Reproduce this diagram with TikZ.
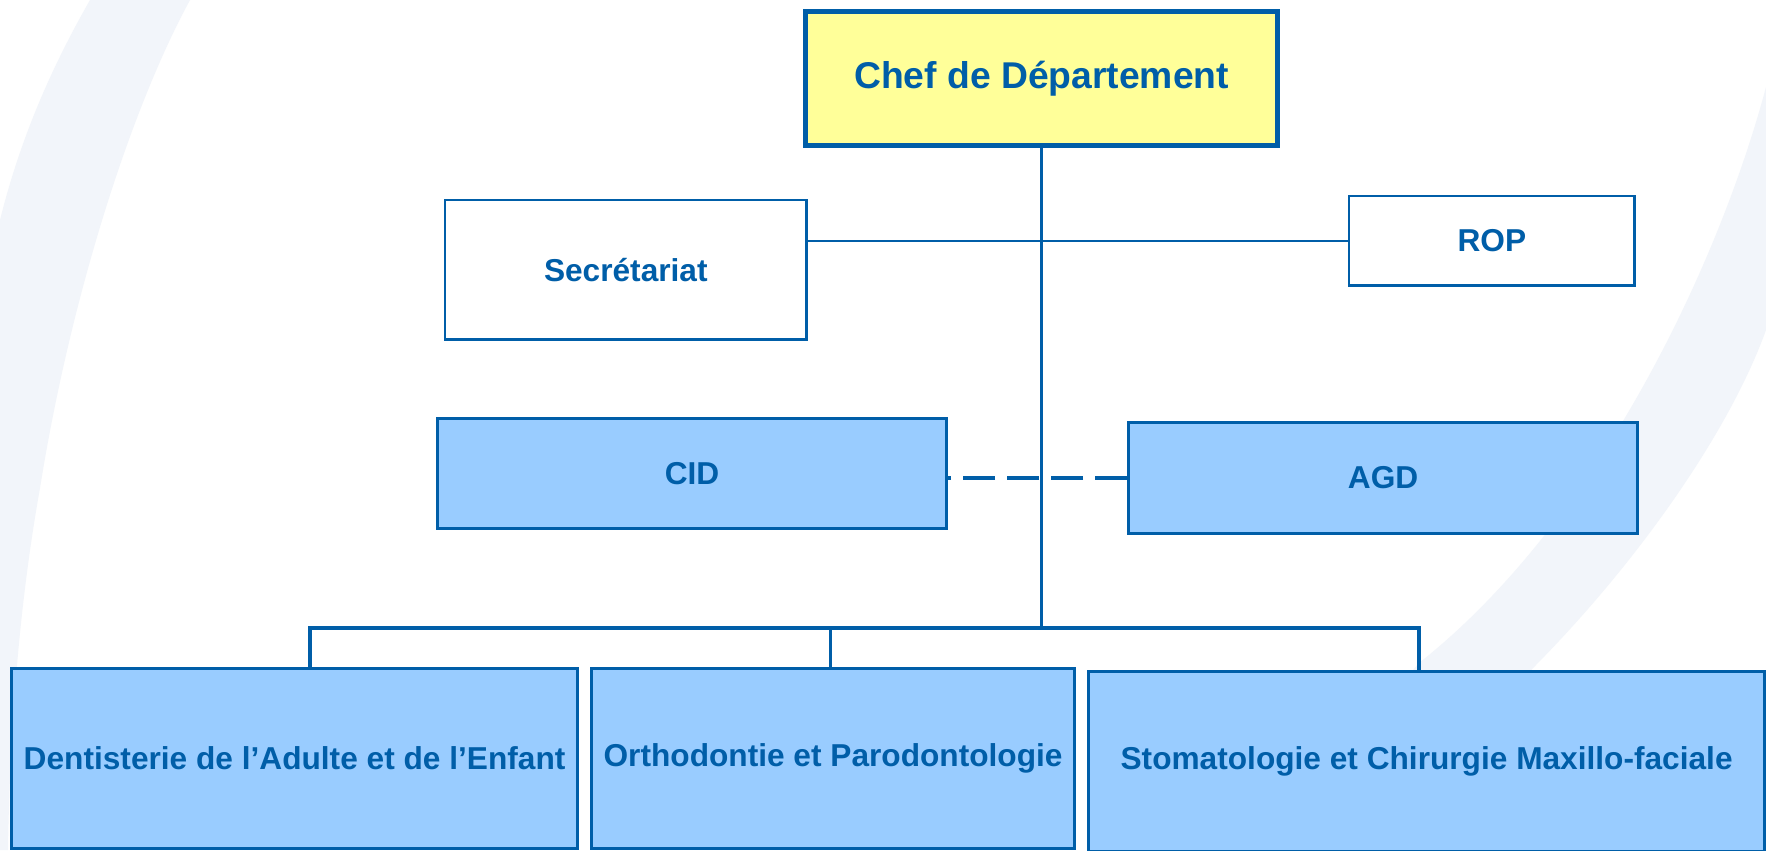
\documentclass[tikz,border=0pt]{standalone}
\usepackage{fontspec}
\setmainfont{Liberation Sans}
\usepackage{tikz}
\usetikzlibrary{calc}
\definecolor{orgblue}{RGB}{0,94,168}
\definecolor{boxblue}{RGB}{153,204,255}
\definecolor{chefyellow}{RGB}{255,255,153}
\definecolor{bandgrey}{RGB}{242,245,250}
\tikzstyle{rect} = [rectangle, draw=orgblue, text=orgblue, font=\bfseries\fontsize{9}{11}\selectfont, inner sep=2pt, text centered, anchor=north west]
\tikzstyle{service} = [rect, fill=boxblue, line width=0.8pt]
\tikzstyle{staff} = [rect, fill=white, line width=0.7pt]
\tikzstyle{link} = [draw=orgblue, line width=0.85pt]

\begin{document}
\begin{tikzpicture}[x=0.01cm, y=-0.01cm]

        \clip (0,0) rectangle (1766,850);
        \fill[white] (0,0) rectangle (1766,850);

        %% fond
        \fill[bandgrey] (90,0) .. controls (50,70) and (20,140) .. (0,220) -- (0,850) -- (8,850) .. controls (10,720) and (20,600) .. (40,488) .. controls (70,300) and (130,110) .. (190,0) -- cycle;
        \fill[bandgrey] (1766,87) .. controls (1720,260) and (1600,520) .. (1419,663) -- (1260,850) -- (1380,850) -- (1533,668) .. controls (1640,560) and (1730,430) .. (1766,330) -- cycle;

        %% direction

        \node (chef) [rect, fill=chefyellow, line width=1.4pt, minimum width=4.72cm, minimum height=1.34cm, font=\bfseries\fontsize{10.6}{13}\selectfont] at (803,9) {Chef de Département};

        \node (sec) [staff, minimum width=3.61cm, minimum height=1.39cm] at (444,199) {Secrétariat};
        \node (rop) [staff, minimum width=2.85cm, minimum height=0.89cm] at (1348,195) {ROP};

        \node (cid) [service, minimum width=5.09cm, minimum height=1.10cm] at (436,417) {CID};
        \node (agd) [service, minimum width=5.09cm, minimum height=1.11cm] at (1127,421) {AGD};

        %% departements

        \node (dent) [service, minimum width=5.66cm, minimum height=1.80cm] at (10,667) {Dentisterie de l’Adulte et de l’Enfant};
        \node (ortho) [service, minimum width=4.83cm, minimum height=1.80cm] at (590,667) {Orthodontie et Parodontologie};
        \node (stoma) [service, minimum width=6.76cm, minimum height=1.80cm] at (1087,670) {Stomatologie et Chirurgie Maxillo-faciale};

        %% liaisons

        \coordinate (b1) at (310,628);
        \coordinate (b2) at (830,628);
        \coordinate (b3) at (1419,628);

        \draw[link] (chef.south) -- (chef.south |- b1);
        \draw[link, line width=0.45pt] (sec.east |- rop.west) -- (rop.west);
        \draw[link, line width=1.1pt, dash pattern=on 9.1pt off 3.4pt] (agd.west) -- (agd.west -| cid.east);
        \draw[link, line width=1pt] (b1 |- dent.north) -- (b1) -- (b3) -- (b3 |- stoma.north);
        \draw[link] (b2) -- (b2 |- ortho.north);

    \end{tikzpicture}
\end{document}
